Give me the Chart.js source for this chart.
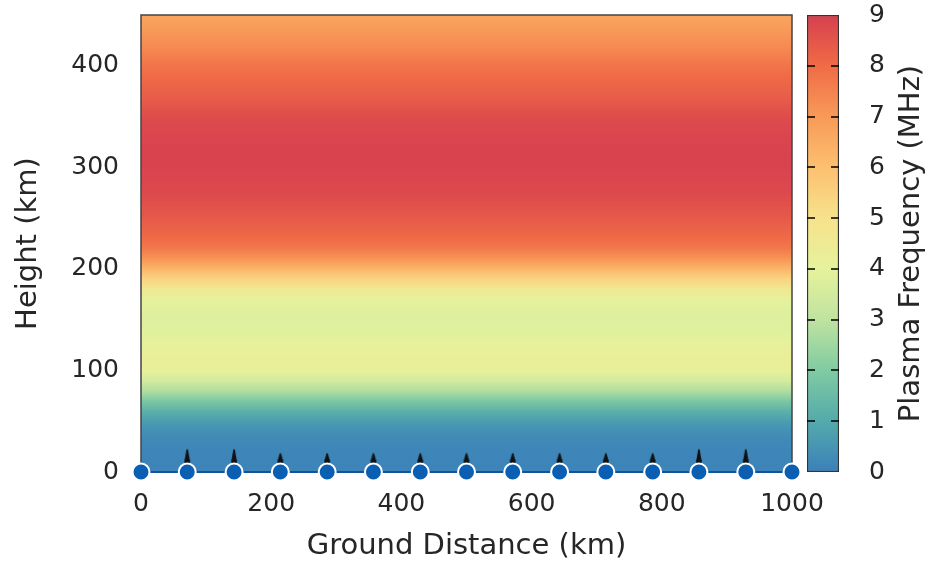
<!DOCTYPE html>
<html>
<head>
<meta charset="utf-8">
<script src="https://cdn.jsdelivr.net/npm/chart.js@4.4.1/dist/chart.umd.min.js"></script>
<style>
  body { margin: 0; background: #fff; }
  #wrap { position: relative; width: 926px; height: 564px; overflow: hidden; }
  #main { position: absolute; left: 0; top: 0; }
  #cbar { position: absolute; left: 780px; top: 0; }
</style>
</head>
<body>
<div id="wrap">
  <canvas id="main" width="926" height="564"></canvas>
  <canvas id="cbar" width="146" height="564"></canvas>
</div>
<script>
// ---------------------------------------------------------------
// data
// ---------------------------------------------------------------

// electron density profile: plasma frequency (MHz) by height (km)
const HEIGHTS = [0, 10, 20, 30, 40, 50, 60, 70, 80, 90,
  100, 110, 120, 130, 140, 150, 160, 170, 180, 190,
  200, 210, 220, 230, 240, 250, 260, 270, 280, 290,
  300, 310, 320, 330, 340, 350, 360, 370, 380, 390,
  400, 410, 420, 430, 440, 450];
const FREQ = [0.1, 0.1, 0.15, 0.2, 0.35, 0.7, 1.2, 1.9, 2.8, 3.5,
  4.1, 4.3, 4.15, 3.95, 3.85, 3.8, 3.85, 4.05, 4.6, 5.4,
  6.3, 7.1, 7.7, 8.0, 8.2, 8.4, 8.55, 8.7, 8.8, 8.85,
  8.9, 8.9, 8.9, 8.85, 8.8, 8.7, 8.5, 8.3, 8.15, 8.0,
  7.8, 7.55, 7.3, 7.1, 6.9, 6.7];

const X_RANGE = [0, 1000];
const Y_RANGE = [0, 450];
const X_STEP = 200;
const Y_STEP = 100;

// ground stations and ray markers
const STATIONS = [0, 71, 143, 214, 286, 357, 429, 500, 571, 643, 714, 786, 857, 929, 1000];
const RAYS_TALL = [71, 143, 857, 929];
const RAYS_SHORT = [214, 286, 357, 429, 500, 571, 643, 714, 786];
const RAY_H = 14;

// colour bar
const CB_TICKS = [0, 1, 2, 3, 4, 5, 6, 7, 8, 9];
const CB_COLORS = ['#3a80ba', '#54aaab', '#80cba2', '#bfe3a0', '#e6f29c',
  '#f7e28c', '#fcc070', '#f89a58', '#f06b46', '#d63f4f'];

// ---------------------------------------------------------------
// helpers
// ---------------------------------------------------------------

const TXT = '#262626';
const FONT = 'DejaVu Sans';
const TICK_PX = 25;
const TITLE_PX = 29;
Chart.defaults.font.family = FONT;
Chart.defaults.color = TXT;

function hexRgb(h) {
  return [1, 3, 5].map(i => parseInt(h.slice(i, i + 2), 16));
}

function freqColor(f) {
  const lo = CB_TICKS[0], hi = CB_TICKS[CB_TICKS.length - 1];
  const v = Math.max(lo, Math.min(hi, f));
  const i = Math.min(CB_TICKS.length - 2, Math.floor(v - lo));
  const t = v - CB_TICKS[i];
  const a = hexRgb(CB_COLORS[i]), b = hexRgb(CB_COLORS[i + 1]);
  const c = a.map((x, k) => Math.round(x + (b[k] - x) * t));
  return `rgb(${c[0]},${c[1]},${c[2]})`;
}

function heatFill(ctx) {
  const chart = ctx.chart;
  if (!chart.chartArea) return 'rgba(0,0,0,0)';
  const y = chart.scales.y;
  const y0 = y.getPixelForValue(HEIGHTS[0]);
  const y1 = y.getPixelForValue(HEIGHTS[HEIGHTS.length - 1]);
  const g = chart.ctx.createLinearGradient(0, y0, 0, y1);
  HEIGHTS.forEach((h, i) => {
    g.addColorStop((y.getPixelForValue(h) - y0) / (y1 - y0), freqColor(FREQ[i]));
  });
  return g;
}

function cbFill(ctx) {
  const chart = ctx.chart;
  if (!chart.chartArea) return 'rgba(0,0,0,0)';
  const y = chart.scales.y;
  const y0 = y.getPixelForValue(CB_TICKS[0]);
  const y1 = y.getPixelForValue(CB_TICKS[CB_TICKS.length - 1]);
  const g = chart.ctx.createLinearGradient(0, y0, 0, y1);
  CB_TICKS.forEach((v, i) => {
    g.addColorStop((y.getPixelForValue(v) - y0) / (y1 - y0), CB_COLORS[i]);
  });
  return g;
}

// little black teardrop (ray launch marker)
function dropIcon(tip) {
  const c = document.createElement('canvas');
  c.width = 8; c.height = 20;
  const g = c.getContext('2d');
  g.fillStyle = '#111';
  g.beginPath();
  g.arc(4, 13.5, 2.8, 0, Math.PI * 2);
  g.fill();
  g.beginPath();
  g.moveTo(1.3, 13);
  g.lineTo(3.2, tip + 1);
  g.quadraticCurveTo(4, tip - 0.5, 4.8, tip + 1);
  g.lineTo(6.7, 13);
  g.closePath();
  g.fill();
  return c;
}

const frame = {
  id: 'frame',
  afterDatasetDraw(chart, args) {
    if (args.index !== 0) return;
    const a = chart.chartArea, c = chart.ctx;
    c.save();
    c.strokeStyle = '#444';
    c.lineWidth = 1.5;
    c.strokeRect(a.left, a.top, a.right - a.left, a.bottom - a.top);
    c.restore();
  }
};

function noVPad(s) {
  s.paddingTop = 0;
  s.paddingBottom = 0;
}

// ---------------------------------------------------------------
// main chart
// ---------------------------------------------------------------

new Chart(document.getElementById('main'), {
  type: 'scatter',
  data: {
    datasets: [
      {
        type: 'line',
        data: X_RANGE.map(x => ({ x, y: Y_RANGE[1] })),
        fill: 'origin',
        backgroundColor: heatFill,
        borderWidth: 0,
        pointRadius: 0,
        order: 10
      },
      {
        type: 'line',
        data: STATIONS.map(x => ({ x, y: 0 })),
        borderColor: '#11539c',
        borderWidth: 2,
        pointRadius: 8.5,
        pointBackgroundColor: '#0b5fb2',
        pointBorderColor: '#fff',
        pointBorderWidth: 2,
        clip: false,
        order: 0
      },
      {
        data: RAYS_TALL.map(x => ({ x, y: RAY_H })),
        pointStyle: dropIcon(1),
        clip: false,
        order: 0
      },
      {
        data: RAYS_SHORT.map(x => ({ x, y: RAY_H })),
        pointStyle: dropIcon(5),
        clip: false,
        order: 0
      }
    ]
  },
  options: {
    responsive: false,
    animation: false,
    events: [],
    layout: { padding: { left: 0, top: 15, right: 134, bottom: 0 } },
    plugins: { legend: { display: false }, tooltip: { enabled: false } },
    scales: {
      x: {
        type: 'linear',
        min: X_RANGE[0], max: X_RANGE[1],
        grid: { display: false },
        border: { display: false },
        ticks: {
          stepSize: X_STEP, padding: 9, font: { size: TICK_PX }, color: TXT,
          callback: v => String(v)
        },
        title: {
          display: true, text: 'Ground Distance (km)',
          font: { size: TITLE_PX }, color: TXT,
          padding: { top: 0, bottom: 0 }
        },
        afterFit: s => { s.height = 92; }
      },
      y: {
        type: 'linear',
        min: Y_RANGE[0], max: Y_RANGE[1],
        grid: { display: false },
        border: { display: false },
        ticks: { stepSize: Y_STEP, padding: 14, font: { size: TICK_PX }, color: TXT },
        afterBuildTicks: s => { s.ticks = s.ticks.filter(t => t.value % Y_STEP === 0); },
        title: {
          display: true, text: 'Height (km)',
          font: { size: TITLE_PX }, color: TXT,
          padding: { top: 11, bottom: 0 }
        },
        afterFit: s => { s.width = 141; noVPad(s); }
      }
    }
  },
  plugins: [frame]
});

// ---------------------------------------------------------------
// colour bar
// ---------------------------------------------------------------

const CB_MIN = CB_TICKS[0], CB_MAX = CB_TICKS[CB_TICKS.length - 1];

const cbDecor = {
  id: 'cbDecor',
  afterDatasetsDraw(chart) {
    const a = chart.chartArea, c = chart.ctx, y = chart.scales.y;
    // short tick dashes at both edges of the bar
    c.save();
    c.strokeStyle = 'rgba(0,0,0,0.75)';
    c.lineWidth = 2;
    CB_TICKS.forEach(v => {
      if (v === CB_MIN || v === CB_MAX) return;
      const py = Math.round(y.getPixelForValue(v));
      c.beginPath();
      c.moveTo(a.left, py); c.lineTo(a.left + 8, py);
      c.moveTo(a.right - 8, py); c.lineTo(a.right, py);
      c.stroke();
    });
    c.restore();
  },
  afterDraw(chart) {
    const a = chart.chartArea, c = chart.ctx;
    c.save();
    c.translate(a.right + 72, (a.top + a.bottom) / 2);
    c.rotate(-Math.PI / 2);
    c.font = `${TITLE_PX}px "${FONT}"`;
    c.fillStyle = TXT;
    c.textAlign = 'center';
    c.textBaseline = 'middle';
    c.fillText('Plasma Frequency (MHz)', 0, 0);
    c.restore();
  }
};

new Chart(document.getElementById('cbar'), {
  type: 'bar',
  data: {
    labels: [''],
    datasets: [{
      data: [[CB_MIN, CB_MAX]],
      backgroundColor: cbFill,
      borderColor: '#333',
      borderWidth: 1.5,
      borderSkipped: false,
      barPercentage: 1,
      categoryPercentage: 1
    }]
  },
  options: {
    responsive: false,
    animation: false,
    events: [],
    layout: { padding: { left: 27, top: 15, right: 0, bottom: 92 } },
    plugins: { legend: { display: false }, tooltip: { enabled: false } },
    scales: {
      x: { display: false },
      y: {
        position: 'right',
        min: CB_MIN, max: CB_MAX,
        grid: { display: false },
        border: { display: false },
        ticks: { stepSize: 1, padding: 22, font: { size: TICK_PX }, color: TXT },
        afterFit: s => { s.width = 87; noVPad(s); }
      }
    }
  },
  plugins: [cbDecor]
});
</script>
</body>
</html>
